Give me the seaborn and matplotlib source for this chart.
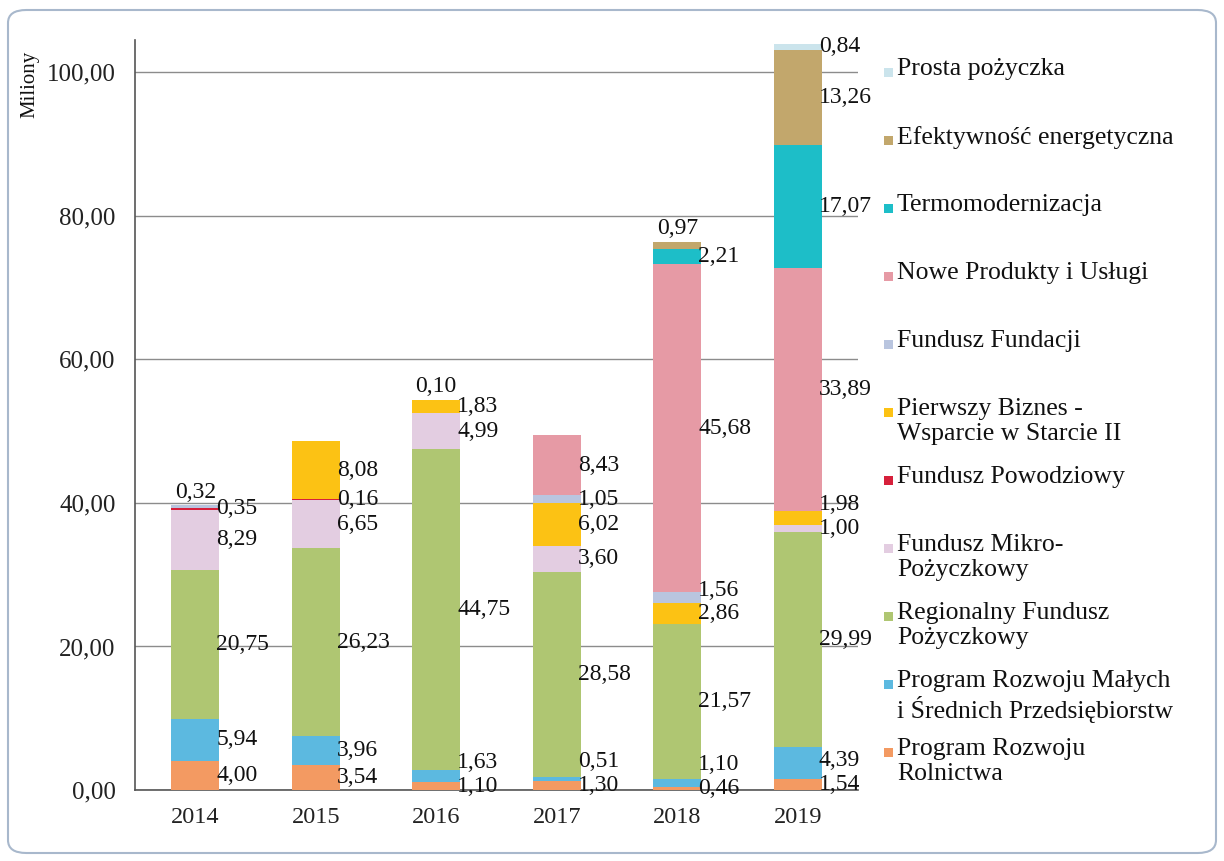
import numpy as np
import pandas as pd
import matplotlib.pyplot as plt
import seaborn as sns
from matplotlib.patches import FancyBboxPatch, Rectangle

# Data (millions PLN), stacked bottom -> top
years = ["2014", "2015", "2016", "2017", "2018", "2019"]

rolnictwa = [4.00, 3.54, 1.10, 1.30, 0.46, 1.54]
msp = [5.94, 3.96, 1.63, 0.51, 1.10, 4.39]
rfp = [20.75, 26.23, 44.75, 28.58, 21.57, 29.99]
mikro = [8.29, 6.65, 4.99, 3.60, 0.00, 1.00]
powodziowy = [0.35, 0.16, 0.00, 0.00, 0.00, 0.00]
pierwszy_biznes = [0.00, 8.08, 1.83, 6.02, 2.86, 1.98]
fundacji = [0.32, 0.00, 0.10, 1.05, 1.56, 0.00]
nowe_produkty = [0.00, 0.00, 0.00, 8.43, 45.68, 33.89]
termo = [0.00, 0.00, 0.00, 0.00, 2.21, 17.07]
efektywnosc = [0.00, 0.00, 0.00, 0.00, 0.97, 13.26]
prosta = [0.00, 0.00, 0.00, 0.00, 0.00, 0.84]

series_names = [
    "Program Rozwoju\nRolnictwa",
    "Program Rozwoju Małych\ni Średnich Przedsiębiorstw",
    "Regionalny Fundusz\nPożyczkowy",
    "Fundusz Mikro-\nPożyczkowy",
    "Fundusz Powodziowy",
    "Pierwszy Biznes -\nWsparcie w Starcie II",
    "Fundusz Fundacji",
    "Nowe Produkty i Usługi",
    "Termomodernizacja",
    "Efektywność energetyczna",
    "Prosta pożyczka",
]
series_values = [rolnictwa, msp, rfp, mikro, powodziowy, pierwszy_biznes,
                 fundacji, nowe_produkty, termo, efektywnosc, prosta]
colors = ["#f39a62", "#5cb9e0", "#afc672", "#e3cde1", "#d6203b", "#fcc214",
          "#b9c5df", "#e69aa5", "#1dbec8", "#c2a76c", "#cbe4ec"]

df = pd.DataFrame({"rok": years})
for name, vals in zip(series_names, series_values):
    df[name] = vals
long_df = df.melt(id_vars="rok", var_name="fundusz", value_name="mln")

sns.set_style("white")
plt.rcParams['font.family'] = ['Liberation Serif', 'DejaVu Serif']

W, H = 1224, 861
fig = plt.figure(figsize=(W / 100, H / 100), dpi=100)
ax = fig.add_axes([135 / W, (H - 790) / H, (858 - 135) / W, 750 / H])

# rounded frame around the whole chart
fig.patches.append(FancyBboxPatch((8 / W, 8 / H), (W - 16) / W, (H - 18) / H,
                                  boxstyle="round,pad=0,rounding_size=0.015",
                                  transform=fig.transFigure, fill=False,
                                  edgecolor="#a8b8cc", linewidth=1.5))

bottom = np.zeros(len(years))
for name, color in zip(series_names, colors):
    sub = long_df[long_df["fundusz"] == name]
    sns.barplot(data=sub, x="rok", y="mln", order=years, color=color,
                saturation=1, width=0.4, bottom=bottom.copy(), errorbar=None,
                ax=ax, zorder=3, linewidth=0, edgecolor="none")
    bottom += sub["mln"].to_numpy()

# data labels: segment centres, pushed apart so they don't overlap
gap = 3.3
for j, yr in enumerate(years):
    base = 0.0
    items = []
    for name, vals in zip(series_names, series_values):
        v = vals[j]
        if v > 0:
            items.append((base + v / 2, v))
        base += v
    total = base
    ys = [c for c, _ in items]
    for k in range(1, len(ys)):
        ys[k] = max(ys[k], ys[k - 1] + gap)
    for k, ((c, v), y) in enumerate(zip(items, ys)):
        txt = f"{v:.2f}".replace(".", ",")
        if k == len(ys) - 1 and y > total:
            ax.text(j, total + 0.4, txt, ha="center", va="bottom",
                    fontsize=17, color="#111111", zorder=5)
        else:
            ax.text(j + 0.175, y, txt, ha="left", va="center",
                    fontsize=17, color="#111111", zorder=5)

ax.set_xlim(-0.5, len(years) - 0.5)
ax.set_ylim(0, 104.5)
ax.set_yticks(np.arange(0, 101, 20))
ax.set_yticklabels([f"{t:.2f}".replace(".", ",") for t in np.arange(0, 101, 20)],
                   fontsize=18, color="#222222")
ax.set_xticks(range(len(years)))
ax.set_xticklabels(years, fontsize=17.5, color="#222222")
ax.set_xticks(np.arange(-0.5, len(years)), minor=True)
ax.tick_params(axis="x", which="major", length=0, pad=12)
ax.tick_params(axis="x", which="minor", length=6, width=1, color="#666666", direction="out")
ax.tick_params(axis="y", length=6, width=1, color="#666666", direction="out", pad=8)
ax.set_xlabel("")
ax.set_ylabel("")
ax.grid(axis="y", color="#8c8c8c", linewidth=1.0)
ax.set_axisbelow(True)
for s in ["top", "right"]:
    ax.spines[s].set_visible(False)
for s in ["left", "bottom"]:
    ax.spines[s].set_color("#555555")
    ax.spines[s].set_linewidth(1.2)

fig.text(30 / W, 1 - 84 / H, "Miliony", rotation=90, ha="center", va="center",
         fontsize=15, color="#111111")

# legend, top to bottom in reverse stacking order, evenly spaced like Excel
for i, (name, color) in enumerate(zip(series_names[::-1], colors[::-1])):
    yc = 72 + 68 * i
    fig.patches.append(Rectangle((884 / W, 1 - (yc + 5) / H), 9 / W, 9 / H,
                                 transform=fig.transFigure, facecolor=color,
                                 edgecolor="none"))
    fig.text(897 / W, 1 - (yc - 14) / H, name, ha="left", va="top",
             fontsize=18.5, color="#111111", linespacing=1.2)

fig.savefig("out.png", dpi=100, facecolor="white")
